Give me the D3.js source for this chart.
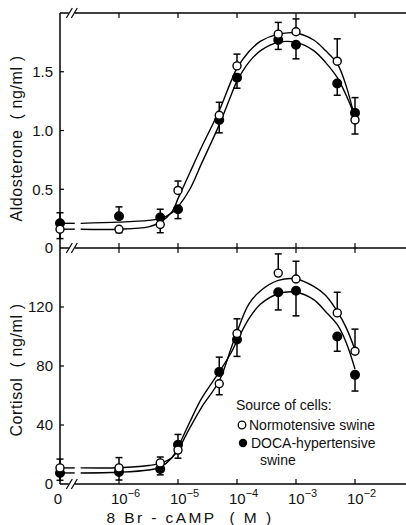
<!DOCTYPE html>
<html>
<head>
<meta charset="utf-8">
<script src="https://cdn.jsdelivr.net/npm/d3@7"></script>
<style>
  html, body { margin: 0; padding: 0; background: #fff; }
  svg { display: block; }
  text { font-family: "Liberation Sans", Arial, sans-serif; fill: #111; }
</style>
</head>
<body>
<svg id="chart" width="406" height="525"></svg>
<script>
// ---------------- data ----------------
const concentrations = [0, 1e-6, 5e-6, 1e-5, 5e-5, 1e-4, 5e-4, 1e-3, 5e-3, 1e-2];
const xTickExponents = [-6, -5, -4, -3, -2];

// Aldosterone (ng/ml)
const aldoNormo     = [0.16, 0.16, 0.20, 0.49, 1.13, 1.55, 1.82, 1.84, 1.59, 1.09];
const aldoNormoErr  = [-0.08, -0.03, -0.07, 0.08, 0.11, 0.10, 0.10, 0.11, 0.19, -0.12];
const aldoDoca      = [0.21, 0.27, 0.26, 0.33, 1.09, 1.45, 1.77, 1.73, 1.40, 1.15];
const aldoDocaErr   = [0.09, 0.08, 0.07, -0.08, -0.11, -0.09, -0.08, -0.12, -0.10, 0.13];

// Cortisol (ng/ml)
const cortNormo     = [10.9, 10.9, 14.3, 23, 68, 102, 143, 139, 116, 90];
const cortNormoErr  = [6, 7, 4, -5.5, -7.5, 10, 13, 12, 14, 15];
const cortDoca      = [7.5, 8.2, 10.2, 26.6, 76, 98, 130, 131, 100, 74];
const cortDocaErr   = [-5, -5.5, -4, 7, 10, -11.5, -12, -17, -10, -11];

// fitted curves (log10 concentration knots; first two knots = zero-dose segment before axis break)
const curveExp = [-7, -6.75, -6.65, -6, -5.5, -5.3, -5.1, -5, -4.8, -4.6, -4.3, -4.1, -4, -3.8, -3.6, -3.3, -3, -2.7, -2.5, -2.3, -2.15, -2];
const aldoNormoCurve = [0.16, 0.16, 0.16, 0.16, 0.18, 0.22, 0.31, 0.42, 0.64, 0.86, 1.17, 1.42, 1.53, 1.67, 1.76, 1.82, 1.83, 1.77, 1.68, 1.57, 1.38, 1.10];
const aldoDocaCurve  = [0.21, 0.21, 0.21, 0.22, 0.235, 0.25, 0.30, 0.35, 0.50, 0.72, 1.05, 1.30, 1.42, 1.58, 1.68, 1.75, 1.75, 1.68, 1.58, 1.45, 1.30, 1.12];
const cortNormoCurve = [10.9, 10.9, 10.9, 11, 12.5, 14, 18, 23, 38, 52, 70, 92, 103, 122, 131, 138, 139, 134, 128, 117, 106, 91];
const cortDocaCurve  = [7.5, 7.5, 7.5, 8, 9.5, 11.5, 18, 25, 42, 58, 76, 89, 97, 112, 122, 129, 130, 125, 117, 108, 96, 78];

const aldoTicks = [0, 0.5, 1.0, 1.5];
const cortTicks = [0, 40, 80, 120];

// ---------------- layout ----------------
const svg = d3.select("#chart");
const left = 60, right = 406;
const yTop = 13, yMid = 248, yBot = 484;

const x = d3.scaleLog().domain([1e-7, 1e-2]).range([left, 355]);
const xPos = c => c === 0 ? x(1e-7) : x(c);
const yA = d3.scaleLinear().domain([0, 2]).range([yMid, yTop]);
const yC = d3.scaleLinear().domain([0, 160]).range([yBot, yMid]);

const axisStroke = 1.5;
const g = svg.append("g");

function hline(y) {
  g.append("line").attr("x1", left).attr("x2", right).attr("y1", y).attr("y2", y)
    .attr("stroke", "#000").attr("stroke-width", axisStroke);
}
function vline(y1, y2) {
  g.append("line").attr("x1", left).attr("x2", left).attr("y1", y1).attr("y2", y2)
    .attr("stroke", "#000").attr("stroke-width", axisStroke);
}
function breakMark(cx, cy) {
  g.append("rect").attr("x", cx - 3).attr("y", cy - 2).attr("width", 6).attr("height", 4).attr("fill", "#fff");
  [-2.5, 2.5].forEach(d => {
    g.append("line").attr("x1", cx + d - 3).attr("y1", cy + 5).attr("x2", cx + d + 3).attr("y2", cy - 5)
      .attr("stroke", "#000").attr("stroke-width", 1.2);
  });
}

// frame lines
hline(yTop); hline(yMid); hline(yBot);
vline(yTop, yMid); vline(yMid, yBot);

// x ticks
xTickExponents.forEach(e => {
  const xp = x(Math.pow(10, e));
  g.append("line").attr("x1", xp).attr("x2", xp).attr("y1", yTop).attr("y2", yTop + 5).attr("stroke", "#000").attr("stroke-width", 1.2);
  g.append("line").attr("x1", xp).attr("x2", xp).attr("y1", yMid - 5).attr("y2", yMid + 5).attr("stroke", "#000").attr("stroke-width", 1.2);
  g.append("line").attr("x1", xp).attr("x2", xp).attr("y1", yBot - 5).attr("y2", yBot).attr("stroke", "#000").attr("stroke-width", 1.2);
});

// break marks on axes
const xBreak = x(Math.pow(10, -6.8));
breakMark(xBreak, yTop);
breakMark(xBreak, yMid);
breakMark(xBreak, yBot);

// y ticks and labels
const fmtA = d => d === 0 ? "0" : d3.format(".1f")(d);
aldoTicks.forEach(t => {
  if (t > 0) g.append("line").attr("x1", left).attr("x2", left + 4).attr("y1", yA(t)).attr("y2", yA(t)).attr("stroke", "#000").attr("stroke-width", 1.2);
  g.append("text").attr("x", 53).attr("y", yA(t)).attr("dy", "0.36em").attr("text-anchor", "end")
    .attr("font-size", 15).text(fmtA(t));
});
cortTicks.forEach(t => {
  if (t > 0) g.append("line").attr("x1", left).attr("x2", left + 4).attr("y1", yC(t)).attr("y2", yC(t)).attr("stroke", "#000").attr("stroke-width", 1.2);
  g.append("text").attr("x", 53).attr("y", yC(t)).attr("dy", "0.36em").attr("text-anchor", "end")
    .attr("font-size", 15).text(t);
});

// x tick labels
g.append("text").attr("x", xPos(0) - 2).attr("y", 504).attr("text-anchor", "middle").attr("font-size", 15).text("0");
xTickExponents.forEach(e => {
  const t = g.append("text").attr("x", x(Math.pow(10, e)) - 8).attr("y", 504).attr("font-size", 15);
  t.append("tspan").text("10");
  t.append("tspan").attr("dy", -7).attr("font-size", 11).text("\u2212" + Math.abs(e));
});

// axis titles
g.append("text").attr("transform", `translate(22,${(yTop + yMid) / 2 + 8}) rotate(-90)`)
  .attr("text-anchor", "middle").attr("font-size", 16).attr("letter-spacing", 0.6)
  .style("white-space", "pre").text("Aldosterone  ( ng/ml )");
g.append("text").attr("transform", `translate(22,${(yMid + yBot) / 2 + 4}) rotate(-90)`)
  .attr("text-anchor", "middle").attr("font-size", 16).attr("letter-spacing", 0.6)
  .style("white-space", "pre").text("Cortisol  ( ng/ml )");
g.append("text").attr("x", 190).attr("y", 523).attr("text-anchor", "middle").attr("font-size", 15.5)
  .attr("letter-spacing", 2.4).style("white-space", "pre").text("8 Br - cAMP  ( M )");

// curves
function drawCurve(vals, yScale) {
  const pts = curveExp.map((e, i) => [e === -7 ? xPos(0) : x(Math.pow(10, e)), yScale(vals[i])]);
  const line = d3.line().curve(d3.curveCatmullRom.alpha(0.5));
  [pts.slice(0, 2), pts.slice(2)].forEach(seg => {
    g.append("path").attr("d", line(seg)).attr("fill", "none").attr("stroke", "#000").attr("stroke-width", 1.4);
  });
}
drawCurve(aldoNormoCurve, yA);
drawCurve(aldoDocaCurve, yA);
drawCurve(cortNormoCurve, yC);
drawCurve(cortDocaCurve, yC);

// error bars + markers
function drawSeries(vals, errs, yScale) {
  vals.forEach((v, i) => {
    const xp = xPos(concentrations[i]);
    const y1 = yScale(v), y2 = yScale(v + errs[i]);
    g.append("line").attr("x1", xp).attr("x2", xp).attr("y1", y1).attr("y2", y2).attr("stroke", "#000").attr("stroke-width", 1.5);
    g.append("line").attr("x1", xp - 3.5).attr("x2", xp + 3.5).attr("y1", y2).attr("y2", y2).attr("stroke", "#000").attr("stroke-width", 1.5);
  });
}
function drawMarkers(vals, yScale, filled) {
  vals.forEach((v, i) => {
    g.append("circle").attr("cx", xPos(concentrations[i])).attr("cy", yScale(v)).attr("r", filled ? 4.3 : 4)
      .attr("fill", filled ? "#000" : "#fff").attr("stroke", "#000").attr("stroke-width", 1.4);
  });
}
drawSeries(aldoNormo, aldoNormoErr, yA);
drawSeries(aldoDoca, aldoDocaErr, yA);
drawSeries(cortNormo, cortNormoErr, yC);
drawSeries(cortDoca, cortDocaErr, yC);
drawMarkers(aldoDoca, yA, true);
drawMarkers(aldoNormo, yA, false);
drawMarkers(cortDoca, yC, true);
drawMarkers(cortNormo, yC, false);

// legend
const lg = g.append("g").attr("font-size", 14);
lg.append("text").attr("x", 236).attr("y", 410).text("Source of cells:");
lg.append("circle").attr("cx", 242).attr("cy", 425).attr("r", 3.8).attr("fill", "#fff").attr("stroke", "#000").attr("stroke-width", 1.3);
lg.append("text").attr("x", 249).attr("y", 430).text("Normotensive swine");
lg.append("circle").attr("cx", 243).attr("cy", 443).attr("r", 4.2).attr("fill", "#000");
lg.append("text").attr("x", 251).attr("y", 448).text("DOCA-hypertensive");
lg.append("text").attr("x", 260).attr("y", 465).text("swine");
</script>
</body>
</html>
